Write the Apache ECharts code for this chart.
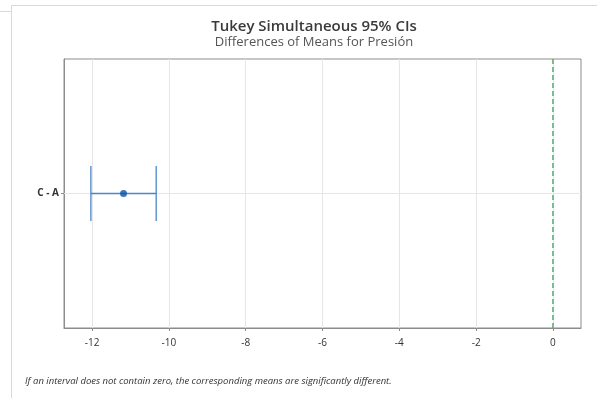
<!DOCTYPE html>
<html><head><meta charset="utf-8">
<script src="https://cdn.jsdelivr.net/npm/echarts@6/dist/echarts.min.js"></script>
<style>html,body{margin:0;padding:0;background:#fff}#c{width:597px;height:398px}</style>
</head><body><div id="c"></div>
<script>
const categories = ["C - A"];
const lowerCI = [-12.03];
const estimate = [-11.18];
const upperCI = [-10.33];
const xTicks = [-12, -10, -8, -6, -4, -2, 0];
const refValue = 0;

const chart = echarts.init(document.getElementById('c'), null, {renderer: 'canvas'});
const font = '"Open Sans", "Noto Sans", sans-serif';
chart.setOption({
  animation: false,
  graphic: [
    {type: 'line', shape: {x1: 11, y1: 5.5, x2: 597, y2: 5.5}, style: {stroke: '#d9d9d9', lineWidth: 1}},
    {type: 'line', shape: {x1: 0, y1: 11.5, x2: 11, y2: 11.5}, style: {stroke: '#d9d9d9', lineWidth: 1}},
    {type: 'line', shape: {x1: 11.5, y1: 5, x2: 11.5, y2: 398}, style: {stroke: '#d9d9d9', lineWidth: 1}},
    {type: 'text', left: 25, top: 376, style: {text: 'If an interval does not contain zero, the corresponding means are significantly different.', font: 'italic 9.5px ' + font, fill: '#333'}}
  ],
  title: {
    text: 'Tukey Simultaneous 95% CIs',
    subtext: 'Differences of Means for Presión',
    left: 309, textAlign: 'center', top: 14, itemGap: 2,
    textStyle: {fontFamily: font, fontSize: 15, fontWeight: 600, color: '#3a3a3a'},
    subtextStyle: {fontFamily: font, fontSize: 13, color: '#555'}
  },
  grid: {left: 64, right: 16, top: 59, bottom: 70, show: true, borderColor: '#8c8c8c', borderWidth: 1, containLabel: false},
  xAxis: {
    type: 'value', min: -12.73, max: 0.73,
    axisLine: {show: true, onZero: false, lineStyle: {color: '#8c8c8c'}},
    axisTick: {show: true, customValues: xTicks, length: 3, lineStyle: {color: '#8c8c8c'}},
    axisLabel: {customValues: xTicks, fontFamily: font, fontSize: 10, color: '#333', margin: 10},
    splitLine: {show: true, lineStyle: {color: '#e6e6e6'}}
  },
  yAxis: {
    type: 'category', data: categories,
    axisLine: {show: true, onZero: false, lineStyle: {color: '#8c8c8c'}},
    axisTick: {show: true, alignWithLabel: true, length: 3, lineStyle: {color: '#8c8c8c'}},
    axisLabel: {fontFamily: font, fontSize: 10, color: '#333', fontWeight: 'bold', margin: 5},
    splitLine: {show: false}
  },
  series: [
    {
      type: 'custom',
      data: categories.map((c, i) => [i, lowerCI[i], upperCI[i]]),
      renderItem: function (params, api) {
        const idx = api.value(0);
        const lo = api.coord([api.value(1), idx]);
        const hi = api.coord([api.value(2), idx]);
        const cs = params.coordSys;
        const ref = api.coord([refValue, idx]);
        const h = 27.5;
        const st = {stroke: '#4a86c8', lineWidth: 1.3, fill: null};
        return {type: 'group', children: [
          {type: 'line', shape: {x1: cs.x, y1: lo[1], x2: cs.x + cs.width, y2: lo[1]}, style: {stroke: '#e6e6e6', lineWidth: 1}},
          {type: 'line', shape: {x1: ref[0], y1: cs.y, x2: ref[0], y2: cs.y + cs.height}, style: {stroke: '#2e9a48', lineWidth: 1.2, lineDash: [5, 3]}},
          {type: 'line', shape: {x1: lo[0], y1: lo[1], x2: hi[0], y2: hi[1]}, style: st},
          {type: 'line', shape: {x1: lo[0], y1: lo[1] - h, x2: lo[0], y2: lo[1] + h}, style: st},
          {type: 'line', shape: {x1: hi[0], y1: hi[1] - h, x2: hi[0], y2: hi[1] + h}, style: st}
        ]};
      }
    },
    {
      type: 'scatter', symbol: 'circle', symbolSize: 7,
      itemStyle: {color: '#0a54a8'},
      data: categories.map((c, i) => [estimate[i], c]),
      z: 5
    }
  ]
});
</script></body></html>
